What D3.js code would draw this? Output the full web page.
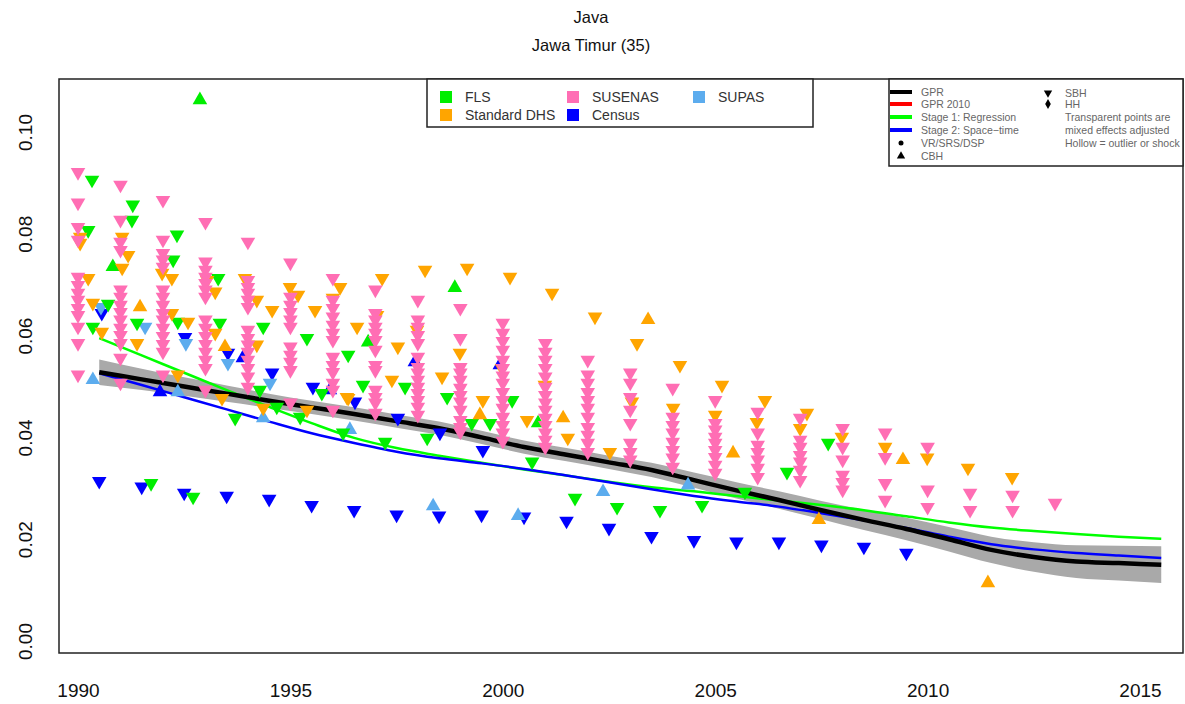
<!DOCTYPE html>
<html><head><meta charset="utf-8">
<script src="https://cdn.jsdelivr.net/npm/d3@7"></script>
<style>
body{margin:0;background:#fff;}
svg{display:block;font-family:"Liberation Sans",Arial,Helvetica,sans-serif;}
</style>
</head><body>
<svg id="chart" width="1185" height="704"></svg>
<script>
// ---------------- DATA ----------------
const titleLines = ["Java", "Jawa Timur (35)"];
const xTicks = [1990, 1995, 2000, 2005, 2010, 2015];
const yTicks = [0.00, 0.02, 0.04, 0.06, 0.08, 0.10];
const yTickLabels = ["0.00", "0.02", "0.04", "0.06", "0.08", "0.10"];

const estYears = [1990.5,1991.5,1992.5,1993.5,1994.5,1995.5,1996.5,1997.5,1998.5,1999.5,2000.5,2001.5,2002.5,2003.5,2004.5,2005.5,2006.5,2007.5,2008.5,2009.5,2010.5,2011.5,2012.5,2013.5,2014.5,2015.5];
const gpr      = [0.0528,0.0514,0.0500,0.0486,0.0472,0.0459,0.0446,0.0432,0.0418,0.0400,0.0381,0.0366,0.0351,0.0336,0.0316,0.0296,0.0277,0.0257,0.0238,0.0220,0.0200,0.0179,0.0165,0.0156,0.0153,0.0150];
const gprLower = [0.0503,0.0493,0.0482,0.0470,0.0458,0.0446,0.0433,0.0419,0.0405,0.0387,0.0368,0.0353,0.0338,0.0322,0.0301,0.0280,0.0260,0.0239,0.0218,0.0198,0.0176,0.0153,0.0136,0.0124,0.0119,0.0114];
const gprUpper = [0.0553,0.0535,0.0518,0.0502,0.0486,0.0472,0.0459,0.0445,0.0431,0.0413,0.0394,0.0379,0.0364,0.0350,0.0331,0.0312,0.0294,0.0275,0.0258,0.0242,0.0224,0.0205,0.0194,0.0188,0.0187,0.0186];
const stage1   = [0.0595,0.0561,0.0527,0.0493,0.0460,0.0428,0.0399,0.0379,0.0364,0.0350,0.0337,0.0325,0.0313,0.0302,0.0294,0.0285,0.0276,0.0267,0.0257,0.0245,0.0233,0.0223,0.0216,0.0210,0.0205,0.0201];
const stage2   = [0.0526,0.0503,0.0479,0.0455,0.0431,0.0408,0.0389,0.0372,0.0359,0.0349,0.0338,0.0325,0.0312,0.0298,0.0285,0.0274,0.0264,0.0251,0.0237,0.0222,0.0205,0.0190,0.0180,0.0173,0.0168,0.0163];

// SUSENAS (SBH), grouped by year
const susenasSBH = [
  [1990, [0.0921,0.0861,0.0813,0.0788,0.0715,0.0699,0.0684,0.0670,0.0654,0.0640,0.0617,0.0585,0.0523]],
  [1991, [0.0896,0.0827,0.0784,0.0768,0.0690,0.0676,0.0660,0.0646,0.0631,0.0615,0.0601,0.0585,0.0556,0.0507]],
  [1992, [0.0866,0.0788,0.0762,0.0749,0.0735,0.0690,0.0676,0.0660,0.0644,0.0631,0.0615,0.0599,0.0583,0.0568,0.0523]],
  [1993, [0.0823,0.0745,0.0729,0.0715,0.0703,0.0690,0.0676,0.0631,0.0615,0.0599,0.0583,0.0568,0.0552,0.0536,0.0493]],
  [1994, [0.0784,0.0709,0.0695,0.0684,0.0670,0.0656,0.0611,0.0595,0.0582,0.0568,0.0552,0.0536,0.0519,0.0499]],
  [1995, [0.0743,0.0676,0.0660,0.0646,0.0631,0.0617,0.0578,0.0562,0.0548,0.0532,0.0468]],
  [1996, [0.0713,0.0670,0.0654,0.0637,0.0621,0.0605,0.0591,0.0558,0.0542,0.0528,0.0507,0.0493,0.0454]],
  [1997, [0.0690,0.0644,0.0631,0.0617,0.0605,0.0591,0.0572,0.0542,0.0532,0.0493,0.0479,0.0468,0.0448]],
  [1998, [0.0670,0.0631,0.0617,0.0601,0.0585,0.0558,0.0538,0.0527,0.0513,0.0499,0.0487,0.0473,0.0460,0.0444]],
  [1999, [0.0654,0.0595,0.0538,0.0527,0.0513,0.0497,0.0483,0.0470,0.0454,0.0434,0.0420,0.0411]],
  [2000, [0.0625,0.0605,0.0589,0.0572,0.0552,0.0536,0.0521,0.0507,0.0489,0.0473,0.0458,0.0440,0.0424,0.0409,0.0393]],
  [2001, [0.0585,0.0568,0.0552,0.0536,0.0519,0.0499,0.0483,0.0468,0.0454,0.0438,0.0424,0.0409,0.0395,0.0381]],
  [2002, [0.0552,0.0523,0.0507,0.0489,0.0473,0.0458,0.0440,0.0420,0.0405,0.0389,0.0371]],
  [2003, [0.0527,0.0507,0.0479,0.0454,0.0428,0.0389,0.0371,0.0356]],
  [2004, [0.0497,0.0440,0.0424,0.0409,0.0391,0.0375,0.0360,0.0342]],
  [2005, [0.0473,0.0428,0.0415,0.0401,0.0389,0.0375,0.0361,0.0346,0.0330]],
  [2006, [0.0450,0.0409,0.0385,0.0371,0.0356,0.0340,0.0322]],
  [2007, [0.0438,0.0395,0.0381,0.0365,0.0352,0.0336,0.0316]],
  [2008, [0.0418,0.0381,0.0356,0.0326,0.0312,0.0297]],
  [2009, [0.0409,0.0361,0.0310,0.0277]],
  [2010, [0.0381,0.0297,0.0263]],
  [2011, [0.0291,0.0257]],
  [2012, [0.0287,0.0257]],
  [2013, [0.0271]]
];

// FLS
const flsSBH = [
  [1990.33,0.0906],[1991.29,0.0857],[1991.27,0.0827],[1990.24,0.0807],[1992.33,0.0798],[1992.24,0.0749],
  [1993.30,0.0713],[1990.71,0.0662],[1991.39,0.0625],[1992.35,0.0627],[1993.34,0.0625],[1994.36,0.0617],
  [1995.39,0.0595],[1990.35,0.0617],[1994.28,0.0493],[1995.74,0.0487],[1993.70,0.0438],[1994.68,0.0460],
  [1995.23,0.0440],[1996.24,0.0409],[1996.36,0.0562],[1996.71,0.0503],[1997.70,0.0499],[1997.23,0.0391],
  [1998.22,0.0399],[1998.69,0.0479],[1999.27,0.0428],[1999.70,0.0428],[2000.22,0.0473],[2000.69,0.0352],
  [2001.70,0.0281],[2002.69,0.0263],[2003.70,0.0257],[2004.69,0.0267],[2005.70,0.0293],[2006.69,0.0332],
  [2007.66,0.0389],[1991.72,0.0310],[1992.71,0.0283]
];
const flsCBH = [[1992.87,0.1063],[1990.82,0.0735],[1996.83,0.0587],[1998.87,0.0694],[2000.83,0.0428]];

// Standard DHS
const dhsSBH = [
  [1990.05,0.0794],[1990.05,0.0782],[1991.04,0.0794],[1991.18,0.0758],[1991.04,0.0733],[1990.24,0.0713],
  [1991.98,0.0723],[1992.21,0.0713],[1993.04,0.0709],[1993.23,0.0686],[1993.93,0.0713],[1994.21,0.0670],
  [1994.57,0.0650],[1994.99,0.0695],[1995.18,0.0680],[1995.58,0.0650],[1996.00,0.0674],[1996.17,0.0695],
  [1990.35,0.0664],[1992.21,0.0644],[1992.59,0.0627],[1991.39,0.0585],[1993.23,0.0605],[1994.21,0.0582],
  [1990.56,0.0607],[1992.35,0.0523],[1993.39,0.0477],[1994.36,0.0458],[1995.39,0.0454],[1996.36,0.0477],
  [1997.16,0.0713],[1998.17,0.0729],[1999.16,0.0733],[2000.17,0.0715],[2001.16,0.0684],[2002.17,0.0637],
  [2003.16,0.0585],[1996.57,0.0617],[1997.04,0.0640],[1997.53,0.0578],[1997.98,0.0611],[1998.99,0.0566],
  [1998.57,0.0519],[1997.39,0.0513],[1999.98,0.0536],[1999.53,0.0473],[2000.99,0.0503],[2000.57,0.0434],
  [2001.53,0.0399],[2002.52,0.0371],[2003.04,0.0470],[1996.33,0.0479],[2004.17,0.0542],[2005.16,0.0503],
  [2006.17,0.0473],[2007.16,0.0448],[2004.01,0.0458],[2005.00,0.0444],[2005.98,0.0430],[2007.00,0.0418],
  [2007.98,0.0401],[2009.00,0.0381],[2009.99,0.0360],[2010.95,0.0340],[2011.99,0.0322]
];
const dhsCBH = [[1991.46,0.0656],[1993.46,0.0578],[1999.46,0.0444],[2001.42,0.0438],[2003.42,0.0631],
  [2005.42,0.0369],[2009.42,0.0356],[2007.44,0.0238],[2011.42,0.0114]];

// Census
const censusSBH = [
  [1990.56,0.0644],[1992.52,0.0597],[1993.53,0.0566],[1994.57,0.0527],[1995.53,0.0499],[1996.52,0.0470],
  [1997.53,0.0438],[1998.52,0.0409],[1999.53,0.0375],
  [1990.5,0.0314],[1991.5,0.0303],[1992.5,0.0291],[1993.5,0.0285],[1994.5,0.0279],[1995.5,0.0267],
  [1996.5,0.0257],[1997.5,0.0248],[1998.5,0.0246],[1999.5,0.0248],[2000.5,0.0244],[2001.5,0.0236],
  [2002.5,0.0222],[2003.5,0.0206],[2004.5,0.0198],[2005.5,0.0195],[2006.5,0.0195],[2007.5,0.0189],
  [2008.5,0.0185],[2009.5,0.0173]
];
const censusCBH = [[1991.93,0.0489],[1993.88,0.0556],[1997.93,0.0548],[1999.93,0.0542],[1995.93,0.0493]];

// SUPAS
const supasSBH = [[1990.54,0.0656],[1991.58,0.0617],[1992.54,0.0585],[1993.53,0.0546],[1994.52,0.0507]];
const supasCBH = [[1990.35,0.0513],[1992.35,0.0489],[1994.36,0.0438],[1996.40,0.0415],[1998.36,0.0265],
  [2000.36,0.0246],[2002.36,0.0293],[2004.36,0.0306]];

const sourceNames = ["FLS", "Standard DHS", "SUSENAS", "Census", "SUPAS"];
const sourceColors = {"FLS":"#00EE00","Standard DHS":"#FFA500","SUSENAS":"#FF6EB4","Census":"#0000FF","SUPAS":"#5CACEE"};

// ---------------- CHART ----------------
const plot = {left: 59, top: 79, right: 1183, bottom: 653};
const svg = d3.select("#chart");

const x = d3.scaleLinear().domain([1990, 2015]).range([78, 1140]);
const y = d3.scaleLinear().domain([0, 0.1]).range([641, 132]);

// title
svg.append("text").attr("x", 591).attr("y", 23).attr("text-anchor", "middle")
  .attr("font-size", 16.5).attr("fill", "#111").text(titleLines[0]);
svg.append("text").attr("x", 591).attr("y", 51).attr("text-anchor", "middle")
  .attr("font-size", 16.5).attr("fill", "#111").text(titleLines[1]);

const est = estYears.map((yr, i) => ({yr, gpr: gpr[i], lo: gprLower[i], hi: gprUpper[i], s1: stage1[i], s2: stage2[i]}));

svg.append("clipPath").attr("id", "plotclip").append("rect")
  .attr("x", plot.left).attr("y", plot.top).attr("width", plot.right - plot.left).attr("height", plot.bottom - plot.top);
const gPlot = svg.append("g").attr("clip-path", "url(#plotclip)");

// uncertainty band
gPlot.append("path").datum(est)
  .attr("d", d3.area().x(d => x(d.yr)).y0(d => y(d.lo)).y1(d => y(d.hi)).curve(d3.curveMonotoneX))
  .attr("fill", "#A9A9A9");

const lineGen = key => d3.line().x(d => x(d.yr)).y(d => y(d[key])).curve(d3.curveMonotoneX);
gPlot.append("path").datum(est).attr("d", lineGen("s1")).attr("fill", "none").attr("stroke", "#00FF00").attr("stroke-width", 2.5);
gPlot.append("path").datum(est).attr("d", lineGen("s2")).attr("fill", "none").attr("stroke", "#0000FF").attr("stroke-width", 2.5);
gPlot.append("path").datum(est).attr("d", lineGen("gpr")).attr("fill", "none").attr("stroke", "#000").attr("stroke-width", 4.5);

// points
const triPath = d3.symbol().type(d3.symbolTriangle).size(92)();
function drawPts(data, color, down) {
  gPlot.append("g").selectAll("path").data(data).join("path")
    .attr("d", triPath)
    .attr("transform", d => `translate(${x(d[0])},${y(d[1])})${down ? " rotate(180)" : ""}`)
    .attr("fill", color);
}
drawPts(censusSBH, sourceColors["Census"], true);
drawPts(censusCBH, sourceColors["Census"], false);
drawPts(supasSBH, sourceColors["SUPAS"], true);
drawPts(supasCBH, sourceColors["SUPAS"], false);
drawPts(flsSBH, sourceColors["FLS"], true);
drawPts(flsCBH, sourceColors["FLS"], false);
drawPts(dhsSBH, sourceColors["Standard DHS"], true);
drawPts(dhsCBH, sourceColors["Standard DHS"], false);
const susFlat = susenasSBH.flatMap(([yr, vals]) => vals.map(v => [yr, v]));
drawPts(susFlat, sourceColors["SUSENAS"], true);

// frame
svg.append("rect").attr("x", plot.left).attr("y", plot.top)
  .attr("width", plot.right - plot.left).attr("height", plot.bottom - plot.top)
  .attr("fill", "none").attr("stroke", "#222").attr("stroke-width", 1.5);

// axes
const xAxis = d3.axisBottom(x).tickValues(xTicks).tickSize(0).tickPadding(31).tickFormat(d3.format("d"));
const gx = svg.append("g").attr("transform", `translate(0,${plot.bottom})`).call(xAxis);
gx.select(".domain").remove();
gx.selectAll("text").attr("font-size", 19).attr("fill", "#111").attr("font-family", "Liberation Sans, Arial, sans-serif");

const yAxis = d3.axisLeft(y).tickValues(yTicks).tickSize(0).tickFormat((d, i) => yTickLabels[i]);
const gy = svg.append("g").attr("transform", `translate(${plot.left},0)`).call(yAxis);
gy.select(".domain").remove();
gy.selectAll("text").attr("font-size", 19).attr("fill", "#111").attr("font-family", "Liberation Sans, Arial, sans-serif")
  .attr("transform", "rotate(-90)").attr("text-anchor", "middle").attr("x", 0).attr("y", -27).attr("dy", 0);

// legend 1 (sources)
const leg1 = svg.append("g");
leg1.append("rect").attr("x", 427).attr("y", 79).attr("width", 386).attr("height", 48)
  .attr("fill", "#fff").attr("stroke", "#222").attr("stroke-width", 1.5);
const leg1Pos = {"FLS":[440,91],"Standard DHS":[440,109],"SUSENAS":[567,91],"Census":[567,109],"SUPAS":[693,91]};
sourceNames.forEach(n => {
  const [lx, ly] = leg1Pos[n];
  leg1.append("rect").attr("x", lx).attr("y", ly).attr("width", 12).attr("height", 12).attr("fill", sourceColors[n]);
  leg1.append("text").attr("x", lx + 25).attr("y", ly + 11).attr("font-size", 14).attr("fill", "#333").text(n);
});

// legend 2 (lines / symbols)
const leg2 = svg.append("g");
leg2.append("rect").attr("x", 889).attr("y", 79).attr("width", 294).attr("height", 87)
  .attr("fill", "#fff").attr("stroke", "#222").attr("stroke-width", 1.5);
const lineItems = [["GPR","#000",92],["GPR 2010","#FF0000",104],["Stage 1: Regression","#00FF00",117],["Stage 2: Space\u2212time","#0000FF",130]];
lineItems.forEach(([lab, col, ly]) => {
  leg2.append("line").attr("x1", 890).attr("x2", 912).attr("y1", ly).attr("y2", ly).attr("stroke", col).attr("stroke-width", 4);
  leg2.append("text").attr("x", 921).attr("y", ly + 4).attr("font-size", 10.5).attr("fill", "#666").text(lab);
});
leg2.append("circle").attr("cx", 901).attr("cy", 143).attr("r", 2.5).attr("fill", "#000");
leg2.append("text").attr("x", 921).attr("y", 147).attr("font-size", 10.5).attr("fill", "#666").text("VR/SRS/DSP");
const smallTri = d3.symbol().type(d3.symbolTriangle).size(30)();
leg2.append("path").attr("d", smallTri).attr("transform", "translate(901,156)").attr("fill", "#000");
leg2.append("text").attr("x", 921).attr("y", 160).attr("font-size", 10.5).attr("fill", "#666").text("CBH");
leg2.append("path").attr("d", smallTri).attr("transform", "translate(1048,93) rotate(180)").attr("fill", "#000");
leg2.append("text").attr("x", 1065).attr("y", 97).attr("font-size", 10.5).attr("fill", "#666").text("SBH");
leg2.append("path").attr("d", d3.symbol().type(d3.symbolDiamond).size(28)()).attr("transform", "translate(1048,104)").attr("fill", "#000");
leg2.append("text").attr("x", 1065).attr("y", 108).attr("font-size", 10.5).attr("fill", "#666").text("HH");
[["Transparent points are",121],["mixed effects adjusted",134],["Hollow = outlier or shock",147]].forEach(([t, ty]) => {
  leg2.append("text").attr("x", 1065).attr("y", ty).attr("font-size", 10.5).attr("fill", "#666").text(t);
});
</script>
</body></html>
